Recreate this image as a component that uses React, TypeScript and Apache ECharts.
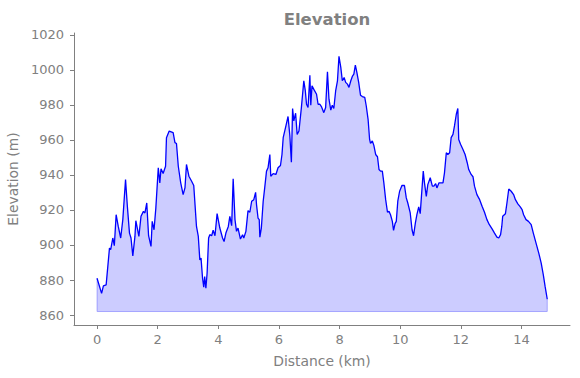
import React, { useEffect, useRef } from "react";
import * as echarts from "echarts";

const distances: number[] = [
  0.0, 0.15, 0.21, 0.3, 0.41, 0.45, 0.52, 0.57, 0.63, 0.7, 0.78, 0.85, 0.94, 1.0, 1.07, 1.12, 1.18, 1.25, 1.28, 1.38,
  1.45, 1.53, 1.58, 1.64, 1.7, 1.78, 1.82, 1.88, 1.94, 2.02, 2.07, 2.11, 2.18, 2.26, 2.29, 2.38, 2.51, 2.57, 2.62, 2.68,
  2.76, 2.84, 2.9, 2.95, 3.03, 3.12, 3.19, 3.28, 3.34, 3.39, 3.43, 3.48, 3.52, 3.55, 3.59, 3.63, 3.68, 3.72, 3.78, 3.83,
  3.89, 3.96, 4.05, 4.14, 4.19, 4.25, 4.33, 4.38, 4.44, 4.49, 4.55, 4.6, 4.65, 4.73, 4.8, 4.84, 4.91, 4.98,
  5.04, 5.1, 5.17, 5.23, 5.26, 5.31, 5.35, 5.37, 5.42, 5.48, 5.53, 5.59, 5.64, 5.7, 5.73, 5.81, 5.9, 5.97, 6.05, 6.1,
  6.14, 6.23, 6.3, 6.36, 6.41, 6.45, 6.49, 6.55, 6.6, 6.66, 6.74, 6.82, 6.87, 6.91, 6.96, 7.02, 7.05, 7.09, 7.16, 7.24,
  7.29, 7.35, 7.4, 7.48, 7.54, 7.6, 7.65, 7.71, 7.76, 7.81, 7.87, 7.93, 7.98, 8.04, 8.09, 8.15, 8.2, 8.26, 8.31, 8.37,
  8.42, 8.47, 8.52, 8.57, 8.63, 8.69, 8.75, 8.83, 8.88, 8.94, 8.99, 9.02, 9.08, 9.13, 9.19, 9.25, 9.3, 9.35, 9.41, 9.46,
  9.52, 9.58, 9.63, 9.68, 9.74, 9.78, 9.83, 9.87, 9.92, 9.98, 10.06, 10.14, 10.2, 10.25, 10.33, 10.39, 10.44, 10.5, 10.55, 10.61,
  10.66, 10.7, 10.76, 10.8, 10.86, 10.91, 10.99, 11.06, 11.11, 11.17, 11.21, 11.28, 11.35, 11.41, 11.46, 11.52, 11.57, 11.63, 11.68, 11.74,
  11.79, 11.85, 11.9, 11.93, 11.99, 12.07, 12.14, 12.21, 12.26, 12.34, 12.4, 12.45, 12.53, 12.62, 12.7, 12.78, 12.86, 12.94, 13.03, 13.11,
  13.19, 13.25, 13.31, 13.35, 13.38, 13.47, 13.52, 13.58, 13.66, 13.74, 13.8, 13.88, 13.96, 14.02, 14.07, 14.15, 14.23, 14.32, 14.39, 14.48,
  14.57, 14.65, 14.72, 14.78, 14.85,
];

const elevations: number[] = [
  881.0, 872.4, 876.6, 877.2, 898.2, 897.3, 904.0, 899.6, 917.3, 910.6, 904.0, 914.5, 937.4, 922.1, 906.8, 904.0, 893.8, 904.9, 913.9, 904.9,
  916.4, 919.2, 918.3, 924.0, 905.3, 899.2, 913.5, 908.7, 921.2, 944.1, 935.5, 943.5, 940.8, 945.0, 961.3, 965.1, 964.2, 958.5, 958.0, 945.0,
  935.5, 928.8, 932.6, 946.0, 939.3, 936.4, 934.0, 910.6, 904.9, 891.5, 892.5, 881.0, 875.9, 882.0, 875.3, 883.9, 904.0, 905.9, 905.3, 908.4,
  905.3, 917.9, 909.7, 904.0, 902.0, 906.8, 910.6, 916.4, 911.0, 937.8, 914.5, 907.8, 909.7, 903.4, 905.9, 904.0, 907.8, 919.6,
  918.7, 925.0, 925.9, 930.1, 923.1, 915.4, 914.5, 904.5, 909.7, 925.0, 932.6, 942.2, 944.1, 951.7, 939.3, 940.8, 940.3, 944.1, 945.4, 951.7,
  961.3, 968.0, 973.4, 962.3, 947.3, 978.0, 970.9, 975.3, 963.2, 965.1, 978.5, 993.8, 988.0, 980.4, 978.5, 997.0, 979.8, 990.9, 988.6, 986.1,
  980.4, 980.4, 979.1, 975.6, 978.5, 999.0, 983.3, 977.1, 979.8, 978.0, 988.0, 993.8, 1007.8, 1001.5, 993.8, 995.7, 992.9, 991.9, 990.0, 993.8,
  996.3, 997.6, 1002.8, 998.6, 992.9, 985.6, 984.8, 984.3, 979.4, 971.8, 960.3, 958.0, 959.4, 956.9, 951.7, 950.4, 943.1, 942.2, 942.2, 935.5,
  925.9, 918.7, 919.2, 917.3, 913.5, 908.4, 912.2, 913.5, 925.0, 930.7, 934.1, 934.0, 926.9, 924.0, 918.3, 908.7, 905.3, 912.6, 917.3, 921.8,
  917.9, 927.8, 942.2, 935.5, 927.8, 934.5, 938.4, 933.6, 933.6, 935.1, 932.6, 935.5, 935.5, 935.5, 941.2, 952.7, 951.7, 952.7, 961.3, 963.2,
  968.0, 974.7, 978.0, 960.3, 957.5, 954.6, 951.7, 947.0, 943.1, 940.3, 939.0, 933.6, 928.8, 925.9, 922.1, 918.7, 914.5, 911.6, 909.2, 906.8,
  904.5, 904.0, 905.9, 910.6, 916.4, 917.9, 924.0, 932.0, 930.7, 928.8, 925.9, 923.5, 921.8, 920.2, 917.3, 914.5, 913.5, 911.6, 906.8, 901.1,
  895.4, 889.6, 882.9, 876.2, 869.0,
];

const fillBase = 862;
const xTicks: number[] = [0, 2, 4, 6, 8, 10, 12, 14];
const yTicks: number[] = [860, 880, 900, 920, 940, 960, 980, 1000, 1020];

const GRAY = "#808080";
const FONT = "DejaVu Sans";

export default function App() {
  const ref = useRef<HTMLDivElement>(null);

  useEffect(() => {
    if (!ref.current) return;
    const chart = echarts.init(ref.current, undefined, { renderer: "svg" });
    const lineData = distances.map((d, i) => [d, elevations[i]]);
    const last = distances.length - 1;
    const edgeData = [
      [distances[0], elevations[0]],
      [distances[0], fillBase],
      [distances[last], fillBase],
      [distances[last], elevations[last]],
    ];
    chart.setOption({
      animation: false,
      backgroundColor: "#ffffff",
      title: {
        text: "Elevation",
        left: 322,
        top: 6,
        textAlign: "center",
        textStyle: { color: GRAY, fontFamily: FONT, fontWeight: "bold", fontSize: 16.5 },
      },
      grid: { left: 74, right: 10, top: 33, bottom: 53, containLabel: false, outerBoundsMode: "none" },
      xAxis: {
        type: "value",
        min: -0.76,
        max: 15.6,
        name: "Distance (km)",
        nameLocation: "middle",
        nameGap: 29,
        nameTextStyle: { color: GRAY, fontFamily: FONT, fontSize: 13.9 },
        axisLine: { show: true, onZero: false, lineStyle: { color: GRAY, width: 1 } },
        axisTick: { show: true, length: 4, lineStyle: { color: GRAY }, customValues: xTicks },
        axisLabel: {
          color: GRAY, fontFamily: FONT, fontSize: 13, margin: 8, customValues: xTicks,
          formatter: (v: number) => String(v),
        },
        splitLine: { show: false },
      },
      yAxis: {
        type: "value",
        min: 854.3,
        max: 1021.1,
        name: "Elevation (m)",
        nameLocation: "middle",
        nameGap: 50,
        nameTextStyle: { color: GRAY, fontFamily: FONT, fontSize: 13.9 },
        axisLine: { show: true, onZero: false, lineStyle: { color: GRAY, width: 1 } },
        axisTick: { show: true, length: 4, lineStyle: { color: GRAY }, customValues: yTicks },
        axisLabel: {
          color: GRAY, fontFamily: FONT, fontSize: 13, margin: 10, customValues: yTicks,
          formatter: (v: number) => String(v),
        },
        splitLine: { show: false },
      },
      series: [
        {
          type: "line",
          data: edgeData,
          showSymbol: false,
          silent: true,
          z: 1,
          lineStyle: { color: "#b8b8ff", width: 1 },
        },
        {
          type: "line",
          data: lineData,
          showSymbol: false,
          z: 2,
          lineStyle: { color: "#0000ff", width: 1.3 },
          areaStyle: { color: "rgba(0,0,255,0.2)", origin: fillBase, opacity: 1 },
        },
      ],
    });
    return () => chart.dispose();
  }, []);

  return (
    <div
      ref={ref}
      style={{ position: "fixed", left: 0, top: 0, width: 580, height: 378 }}
    />
  );
}
